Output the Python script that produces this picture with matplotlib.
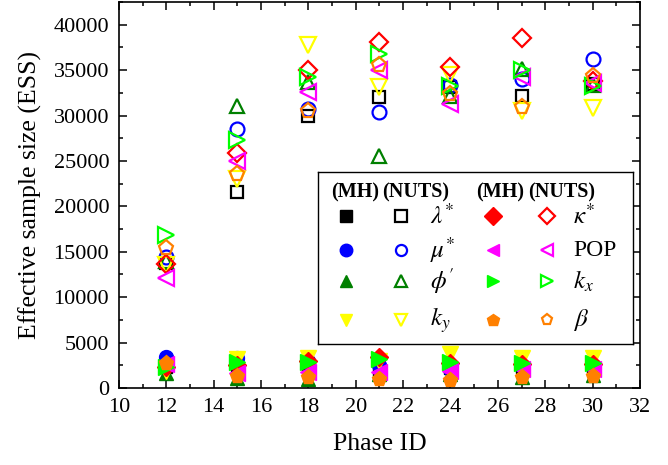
import numpy as np
import matplotlib
matplotlib.use('Agg')
import matplotlib.pyplot as plt

plt.rcParams['font.family'] = 'Liberation Serif'
plt.rcParams['mathtext.fontset'] = 'stix'

phases = [12, 15, 18, 21, 24, 27, 30]

# ESS values, NUTS sampler (open markers)
lam_nuts = [13800, 21600, 30000, 32000, 33200, 32100, 33500]
mu_nuts = [14400, 28500, 30700, 30400, 33400, 34000, 36200]
phi_nuts = [14000, 31100, 33700, 25600, 32100, 35100, 33400]
ky_nuts = [13500, 23000, 37800, 33100, 34500, 30500, 30800]
kappa_nuts = [13700, 25900, 35000, 38100, 35300, 38500, 33800]
pop_nuts = [12100, 25000, 32600, 35000, 31300, 34300, 33600]
kx_nuts = [16900, 27300, 34200, 36800, 33300, 35000, 33300]
beta_nuts = [15400, 23600, 30500, 35600, 32400, 30900, 34400]

# ESS values, MH sampler (filled markers)
lam_mh = [2300, 2500, 2600, 2000, 2200, 2300, 2300]
mu_mh = [3400, 3300, 3000, 2500, 2100, 2400, 2400]
phi_mh = [1600, 1100, 1000, 1500, 1500, 1200, 1400]
ky_mh = [1900, 3200, 3300, 3000, 3700, 3300, 3300]
kappa_mh = [2300, 2500, 3000, 3400, 2800, 2600, 2600]
pop_mh = [2600, 1600, 1800, 1800, 1900, 2100, 2100]
kx_mh = [2300, 2900, 2900, 3200, 2900, 2700, 2700]
beta_mh = [2700, 1300, 1200, 1000, 900, 1200, 1300]

labels = [r'$\lambda^{*}$', r'$\mu^{*}$', r"$\phi'$", r'$k_y$',
          r'$\kappa^{*}$', 'POP', r'$k_x$', r'$\beta$']
markers = ['s', 'o', '^', 'v', 'D', '<', '>', 'p']
colors = ['black', '#0000FF', '#008000', '#FFFF00',
          '#FF0000', '#FF00FF', '#00FF00', '#FF8000']
sizes = [9, 10, 10, 11, 9, 11, 11, 11]
mh = [lam_mh, mu_mh, phi_mh, ky_mh, kappa_mh, pop_mh, kx_mh, beta_mh]
nuts = [lam_nuts, mu_nuts, phi_nuts, ky_nuts, kappa_nuts, pop_nuts, kx_nuts, beta_nuts]

fig = plt.figure(figsize=(6.68, 4.65), dpi=100)
ax = fig.add_axes([0.178, 0.1656, 0.78, 0.830])

for vals, m, c, s in zip(mh, markers, colors, sizes):
    ax.plot(phases, vals, linestyle='none', marker=m, color=c, markersize=s,
            markeredgecolor=c)
for vals, m, c, s in zip(nuts, markers, colors, sizes):
    ax.plot(phases, vals, linestyle='none', marker=m, markerfacecolor='none',
            markeredgecolor=c, markersize=s, markeredgewidth=1.6)

ax.set_xlim(10, 32)
ax.set_ylim(0, 42500)
ax.set_xticks(np.arange(10, 33, 2))
ax.set_xticks(np.arange(10, 33, 1), minor=True)
ax.set_yticks(np.arange(0, 40001, 5000))
ax.set_yticks(np.arange(0, 42501, 2500), minor=True)
ax.tick_params(which='both', direction='in', top=True, right=True, labelsize=16, width=1.1)
ax.tick_params(which='major', length=6, pad=7)
ax.tick_params(which='minor', length=3)
for sp in ax.spines.values():
    sp.set_linewidth(1.2)
ax.set_xlabel('Phase ID', fontsize=18.5, labelpad=12)
ax.set_ylabel('Effective sample size (ESS)', fontsize=18.5, labelpad=8)

# hand-built legend box
lg = fig.add_axes([318 / 668, (465 - 344) / 465, 315 / 668, 172 / 465])
lg.set_xlim(318, 633)
lg.set_ylim(344, 172)
lg.set_xticks([])
lg.set_yticks([])
for sp in lg.spines.values():
    sp.set_linewidth(1.0)

hdr = dict(fontsize=14.5, fontweight='bold', ha='left', va='center')
lg.text(331, 192, '(MH)', **hdr)
lg.text(382, 192, '(NUTS)', **hdr)
lg.text(476, 192, '(MH)', **hdr)
lg.text(528, 192, '(NUTS)', **hdr)

row_y = [216, 250, 281, 320]
groups = [(346, 401, 430), (493, 547, 573)]
for i in range(8):
    g = groups[i // 4]
    y = row_y[i % 4]
    m, c = markers[i], colors[i]
    lg.plot(g[0], y, marker=m, color=c, markersize=9, linestyle='none')
    lg.plot(g[1], y, marker=m, markerfacecolor='none', markeredgecolor=c,
            markersize=8, markeredgewidth=1.6, linestyle='none')
    lg.text(g[2], y, labels[i], fontsize=18 if labels[i] != 'POP' else 17,
            ha='left', va='center')

fig.savefig('out.png', dpi=100)
